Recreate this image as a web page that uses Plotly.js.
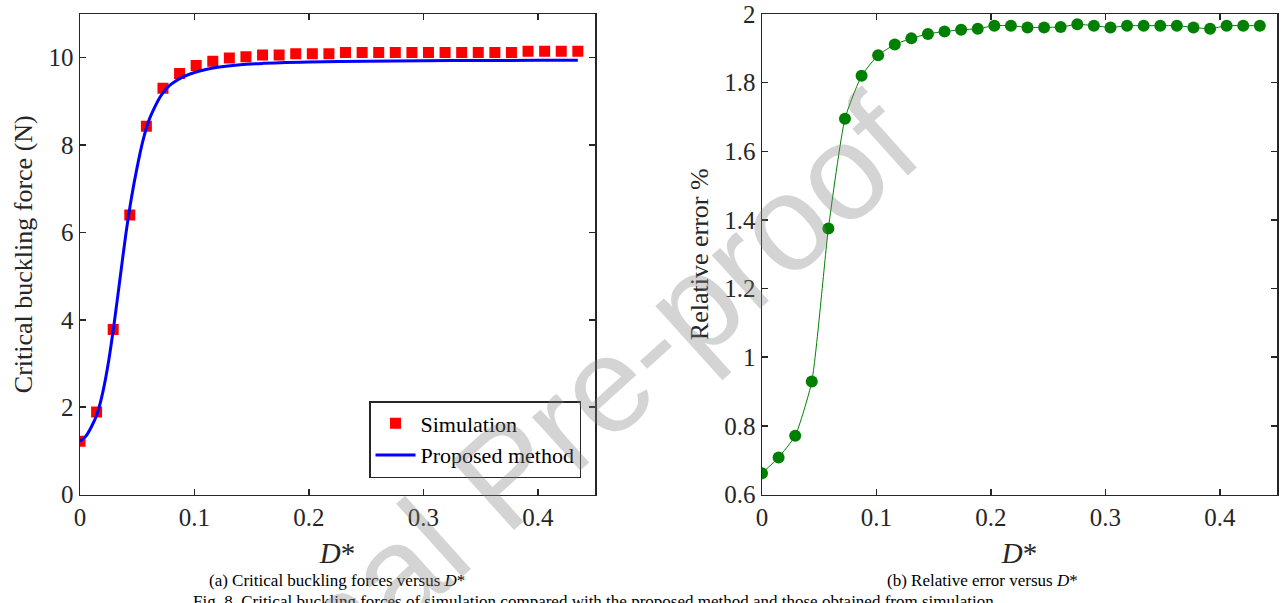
<!DOCTYPE html>
<html>
<head>
<meta charset="utf-8">
<script src="https://cdn.plot.ly/plotly-3.0.1.min.js"></script>
<style>html,body{margin:0;padding:0;background:#fff}#chart{width:1283px;height:603px}</style>
</head>
<body>
<div id="chart"></div>
<script>
// D* values (shared by both panels)
const dStar = [0, 0.0145, 0.029, 0.0435, 0.058, 0.0725, 0.087, 0.1015, 0.116, 0.1305, 0.145, 0.1595, 0.174, 0.1885, 0.203, 0.2175, 0.232, 0.2465, 0.261, 0.2755, 0.29, 0.3045, 0.319, 0.3335, 0.348, 0.3625, 0.377, 0.3915, 0.406, 0.4205, 0.435];
// (a) Simulation critical buckling force (N)
const simForce = [1.22, 1.89, 3.78, 6.40, 8.43, 9.30, 9.64, 9.82, 9.92, 9.99, 10.02, 10.06, 10.06, 10.09, 10.09, 10.09, 10.12, 10.12, 10.12, 10.12, 10.12, 10.12, 10.12, 10.12, 10.12, 10.12, 10.12, 10.15, 10.15, 10.15, 10.15];
// (a) Proposed method curve
const propX = [0, 0.005, 0.01, 0.015, 0.02, 0.025, 0.03, 0.035, 0.04, 0.045, 0.05, 0.055, 0.06, 0.065, 0.07, 0.075, 0.08, 0.09, 0.1, 0.11, 0.12, 0.14, 0.16, 0.18, 0.2, 0.25, 0.3, 0.35, 0.4, 0.435];
const propY = [1.22, 1.33, 1.55, 1.85, 2.35, 3.05, 3.95, 4.95, 5.95, 6.8, 7.5, 8.1, 8.55, 8.85, 9.1, 9.28, 9.4, 9.56, 9.66, 9.73, 9.78, 9.84, 9.87, 9.89, 9.9, 9.92, 9.93, 9.935, 9.94, 9.94];
// (b) Relative error %
const relError = [0.662, 0.708, 0.771, 0.929, 1.375, 1.695, 1.820, 1.880, 1.911, 1.929, 1.942, 1.949, 1.954, 1.957, 1.966, 1.966, 1.961, 1.961, 1.962, 1.970, 1.966, 1.961, 1.966, 1.966, 1.966, 1.966, 1.961, 1.957, 1.966, 1.966, 1.966];
// tick labels
const xTicks = [0, 0.1, 0.2, 0.3, 0.4];
const xTickText = ['0', '0.1', '0.2', '0.3', '0.4'];
const yTicksA = [0, 2, 4, 6, 8, 10];
const yTicksB = [0.6, 0.8, 1, 1.2, 1.4, 1.6, 1.8, 2];
const yTickTextB = ['0.6', '0.8', '1', '1.2', '1.4', '1.6', '1.8', '2'];

const W = 1283, H = 603;
const SERIF = 'Liberation Serif, Times New Roman, serif';
const AX = '#262626';
const px = v => v / W;
const py = v => 1 - v / H;

const traces = [
  {x: dStar, y: simForce, type: 'scatter', mode: 'markers', name: 'Simulation',
   marker: {symbol: 'square', size: 11, color: '#ff0000'}, xaxis: 'x', yaxis: 'y'},
  {x: propX, y: propY, type: 'scatter', mode: 'lines', name: 'Proposed method',
   line: {color: '#0000ff', width: 3, shape: 'spline', smoothing: 0.8}, xaxis: 'x', yaxis: 'y'},
  {x: dStar, y: relError, type: 'scatter', mode: 'lines+markers', name: 'Relative error',
   showlegend: false, line: {color: '#008000', width: 1, shape: 'spline', smoothing: 0.5},
   marker: {symbol: 'circle', size: 12, color: '#008000'}, xaxis: 'x2', yaxis: 'y2'}
];

function axisBase() {
  return {
    showline: true, linecolor: AX, linewidth: 1.5, mirror: 'ticks',
    ticks: 'inside', ticklen: 6, tickwidth: 1.5, tickcolor: AX,
    showgrid: false, zeroline: false, automargin: false,
    tickfont: {family: SERIF, size: 25, color: AX}
  };
}

const layout = {
  width: W, height: H,
  margin: {l: 0, r: 0, t: 0, b: 0},
  paper_bgcolor: '#fff', plot_bgcolor: '#fff',
  showlegend: true,
  legend: {
    x: px(581), y: py(478), xanchor: 'right', yanchor: 'bottom',
    bgcolor: '#fff', bordercolor: AX, borderwidth: 1.5,
    font: {family: SERIF, size: 22, color: '#000'},
    itemwidth: 40, tracegroupgap: 0
  },
  xaxis: Object.assign(axisBase(), {
    domain: [px(80), px(595)], range: [0, 0.45], anchor: 'y',
    tickvals: xTicks, ticktext: xTickText,
    title: {text: '<i>D</i>*', font: {family: SERIF, size: 29, color: AX}, standoff: 12}
  }),
  yaxis: Object.assign(axisBase(), {
    domain: [py(494.5), py(14)], range: [0, 11], anchor: 'x',
    tickvals: yTicksA,
    title: {text: 'Critical buckling force (N)', font: {family: SERIF, size: 26, color: AX}, standoff: 8}
  }),
  xaxis2: Object.assign(axisBase(), {
    domain: [px(762), px(1277)], range: [0, 0.45], anchor: 'y2',
    tickvals: xTicks, ticktext: xTickText,
    title: {text: '<i>D</i>*', font: {family: SERIF, size: 29, color: AX}, standoff: 12}
  }),
  yaxis2: Object.assign(axisBase(), {
    domain: [py(494.5), py(14)], range: [0.6, 2], anchor: 'x2',
    tickvals: yTicksB, ticktext: yTickTextB,
    title: {text: 'Relative error %', font: {family: SERIF, size: 26, color: AX}, standoff: 8}
  }),
  annotations: [
    {text: '(a) Critical buckling forces versus <i>D</i>*', xref: 'paper', yref: 'paper',
     x: px(337), y: py(580), xanchor: 'center', yanchor: 'middle', showarrow: false,
     font: {family: SERIF, size: 17, color: '#000'}},
    {text: '(b) Relative error versus <i>D</i>*', xref: 'paper', yref: 'paper',
     x: px(982), y: py(580), xanchor: 'center', yanchor: 'middle', showarrow: false,
     font: {family: SERIF, size: 17, color: '#000'}},
    {text: 'Fig. 8. Critical buckling forces of simulation compared with the proposed method and those obtained from simulation',
     xref: 'paper', yref: 'paper', x: px(593), y: py(601), xanchor: 'center', yanchor: 'middle', showarrow: false,
     font: {family: SERIF, size: 17, color: '#000'}},
    {text: 'Journal Pre-proof', xref: 'paper', yref: 'paper',
     x: px(505), y: py(475), xanchor: 'center', yanchor: 'middle', showarrow: false, textangle: -42,
     font: {family: 'Liberation Sans, Arial, sans-serif', size: 136, color: 'rgba(128,128,128,0.34)'}}
  ]
};

Plotly.newPlot('chart', traces, layout, {staticPlot: true, displayModeBar: false});
</script>
</body>
</html>
